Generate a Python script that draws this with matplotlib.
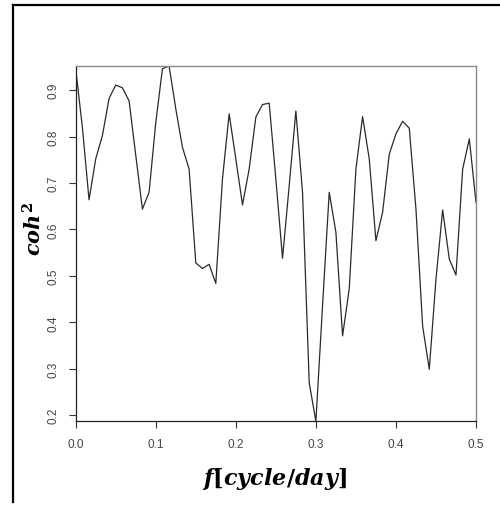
import numpy as np
import matplotlib
matplotlib.use("Agg")
import matplotlib.pyplot as plt
from matplotlib.lines import Line2D

# Squared coherence estimated at Fourier frequencies k/120, k = 0..60
freq = np.arange(61) / 120.0
coh2 = [
    0.946, 0.820, 0.664, 0.752, 0.802, 0.882, 0.911, 0.905, 0.877, 0.760,
    0.644, 0.680, 0.830, 0.946, 0.952, 0.860, 0.777, 0.730, 0.528, 0.516,
    0.525, 0.484, 0.709, 0.849, 0.752, 0.653, 0.730, 0.842, 0.869, 0.872,
    0.709, 0.538, 0.694, 0.855, 0.680, 0.270, 0.187, 0.436, 0.680, 0.594,
    0.371, 0.472, 0.730, 0.843, 0.752, 0.576, 0.637, 0.762, 0.806, 0.833,
    0.818, 0.644, 0.392, 0.299, 0.493, 0.642, 0.536, 0.502, 0.730, 0.795,
    0.658,
]
xticks = [0.0, 0.1, 0.2, 0.3, 0.4, 0.5]
yticks = [0.2, 0.3, 0.4, 0.5, 0.6, 0.7, 0.8, 0.9]

plt.rcParams["mathtext.fontset"] = "custom"
plt.rcParams["mathtext.it"] = "DejaVu Serif:italic:bold"
plt.rcParams["mathtext.rm"] = "DejaVu Serif:bold"
plt.rcParams["mathtext.bf"] = "DejaVu Serif:bold"

W, H = 500, 506
fig = plt.figure(figsize=(W / 100, H / 100), dpi=100)
ax = fig.add_axes([75.7 / W, 1 - 422.3 / H, (476 - 75.7) / W, (422.3 - 67) / H])

ax.plot(freq, coh2, color="#2a2a2a", lw=0.9)
ax.set_xlim(0, 0.5)
ax.set_ylim(min(coh2), max(coh2))

ax.set_xticks(xticks)
ax.set_xticklabels([f"{t:.1f}" for t in xticks])
ax.set_yticks(yticks)
ax.set_yticklabels([f"{t:.1f}" for t in yticks], rotation=90, va="center")
ax.tick_params(axis="both", direction="out", length=5, width=0.8,
               colors="#333333", labelsize=8.5, pad=7)
ax.tick_params(axis="y", pad=7)
for lab in ax.get_xticklabels() + ax.get_yticklabels():
    lab.set_fontfamily("Liberation Sans")
    lab.set_color("#444444")

for side in ("top", "right"):
    ax.spines[side].set_color("#8a8a8a")
    ax.spines[side].set_linewidth(1.0)
for side in ("left", "bottom"):
    ax.spines[side].set_color("#222222")
    ax.spines[side].set_linewidth(0.9)

# axis titles
fig.text(34 / W, 1 - 229 / H, r"$coh^{2}$", rotation=90, ha="center", va="center",
         fontsize=15)
fig.text(274 / W, 1 - 479 / H, r"$f[cycle/day]$", ha="center", va="center",
         fontsize=16)

# outer frame (left and top edges)
fig.add_artist(Line2D([13 / W, 13 / W], [1 - 503 / H, 1 - 6 / H],
                      color="black", lw=1.6, transform=fig.transFigure))
fig.add_artist(Line2D([13 / W, 1.0], [1 - 6 / H, 1 - 6 / H],
                      color="black", lw=1.6, transform=fig.transFigure))

fig.savefig("out.png", dpi=100)
